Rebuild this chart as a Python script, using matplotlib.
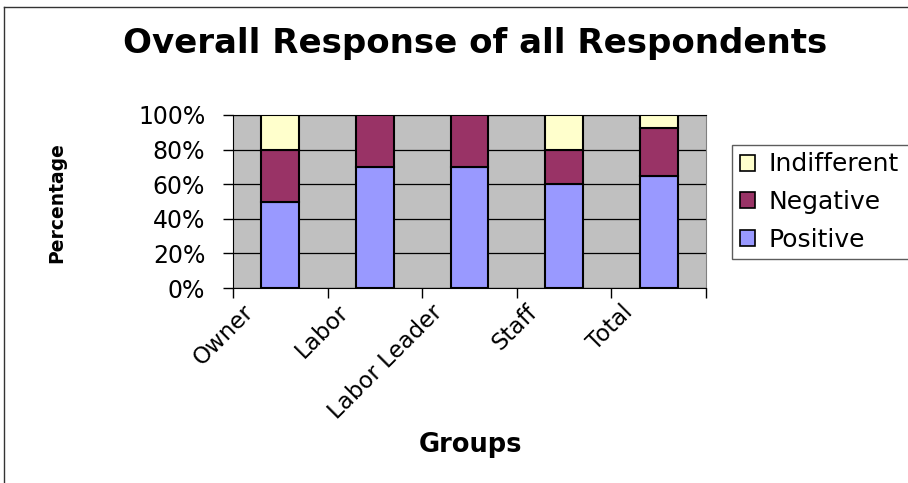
import numpy as np
import matplotlib
matplotlib.use("Agg")
import matplotlib.pyplot as plt
from matplotlib.lines import Line2D
from matplotlib.patches import Patch
from matplotlib.transforms import ScaledTranslation

# survey shares per group (percent)
groups = ["Owner", "Labor", "Labor Leader", "Staff", "Total"]
positive = [50, 70, 70, 60, 65]
negative = [30, 30, 30, 20, 27.5]
indifferent = [20, 0, 0, 20, 7.5]

col_pos = "#9999FF"
col_neg = "#993366"
col_ind = "#FFFFCC"

plt.rcParams['font.family'] = ['DejaVu Sans']

W, H = 908, 483
fig = plt.figure(figsize=(W / 100, H / 100), dpi=100)

# plot area in pixels
x0, x1, ytop, ybot = 233, 706, 115, 288
ax = fig.add_axes([x0 / W, 1 - ybot / H, (x1 - x0) / W, (ybot - ytop) / H])
ax.set_facecolor("#C0C0C0")

x = np.arange(len(groups))
pos = np.array(positive)
neg = np.array(negative)
ind = np.array(indifferent)
bw = 0.4
ax.bar(x, pos, bw, color=col_pos, edgecolor="black", linewidth=1.5, zorder=3)
ax.bar(x, neg, bw, bottom=pos, color=col_neg, edgecolor="black", linewidth=1.5, zorder=3)
mask = ind > 0
ax.bar(x[mask], ind[mask], bw, bottom=(pos + neg)[mask], color=col_ind,
       edgecolor="black", linewidth=1.5, zorder=3)

ax.set_xlim(-0.5, len(groups) - 0.5)
ax.set_ylim(0, 100)
ax.set_yticks(np.arange(0, 101, 20))
ax.set_yticklabels([f"{v}%" for v in range(0, 101, 20)], fontsize=17)
ax.yaxis.grid(True, color="black", linewidth=0.9, zorder=1)
ax.set_axisbelow(True)
ax.tick_params(axis="y", direction="out", length=7, width=1, pad=13)

# ticks between categories, labels at the centers
ax.set_xticks(np.arange(-0.5, len(groups), 1.0))
ax.set_xticklabels([])
ax.tick_params(axis="x", which="major", direction="out", length=7, width=1)
ax.set_xticks(x, minor=True)
ax.set_xticklabels(groups, minor=True, rotation=45, ha="right", va="center",
                   rotation_mode="anchor", fontsize=16.5)
ax.tick_params(axis="x", which="minor", length=0, pad=15)
shift = ScaledTranslation(-30 / 100, 0, fig.dpi_scale_trans)
for lab in ax.get_xticklabels(minor=True):
    lab.set_transform(lab.get_transform() + shift)

for s in ["left", "bottom", "top"]:
    ax.spines[s].set_color("black")
ax.spines["right"].set_color("#808080")

fig.text(475 / W, 1 - 44 / H, "Overall Response of all Respondents",
         ha="center", va="center", fontsize=24.5, fontweight="bold")
fig.text(470 / W, 1 - 445 / H, "Groups", ha="center", va="center",
         fontsize=18.5, fontweight="bold")
fig.text(57 / W, 1 - 203 / H, "Percentage", ha="center", va="center",
         rotation=90, fontsize=13.5, fontweight="bold")

handles = [Patch(facecolor=col_ind, edgecolor="black", linewidth=1.2),
           Patch(facecolor=col_neg, edgecolor="black", linewidth=1.2),
           Patch(facecolor=col_pos, edgecolor="black", linewidth=1.2)]
leg = fig.legend(handles, ["Indifferent", "Negative", "Positive"],
                 loc="upper left", bbox_to_anchor=(732 / W, 0, 0.25, 1 - 145 / H),
                 mode="expand", fontsize=18, frameon=True, fancybox=False,
                 handlelength=0.6, handleheight=0.6, handletextpad=0.55,
                 labelspacing=0.55, borderpad=0.3, borderaxespad=0)
leg.get_frame().set_edgecolor("#333333")
leg.get_frame().set_linewidth(1)

# chart border
fig.add_artist(Line2D([4 / W, 4 / W], [0, 1 - 7 / H], transform=fig.transFigure,
                      color="#333333", linewidth=1))
fig.add_artist(Line2D([4 / W, 1], [1 - 7 / H, 1 - 7 / H], transform=fig.transFigure,
                      color="#333333", linewidth=1))

fig.savefig("out.png", dpi=100)
